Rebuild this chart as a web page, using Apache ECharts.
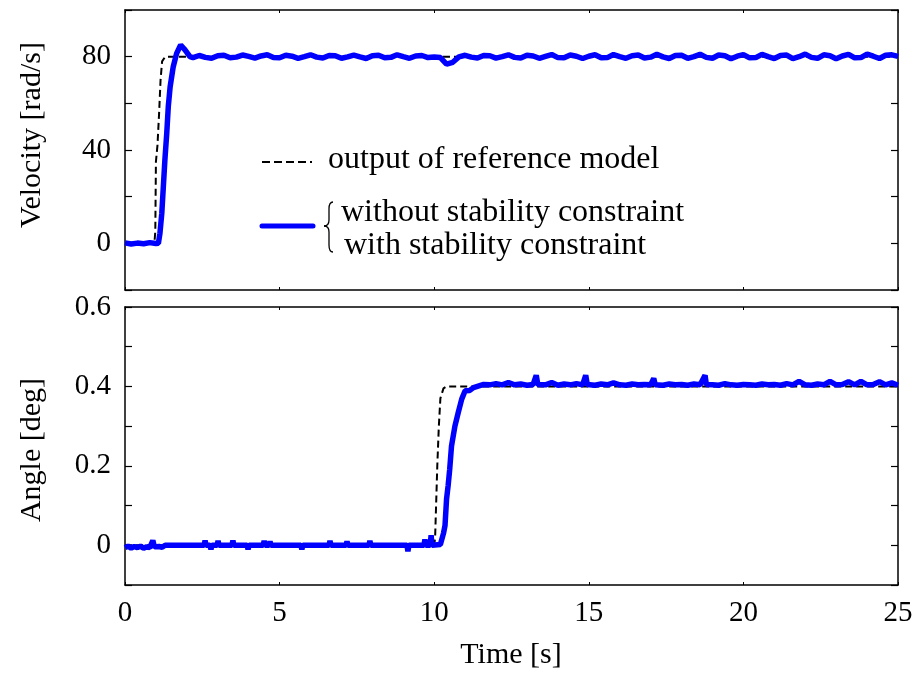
<!DOCTYPE html>
<html>
<head>
<meta charset="utf-8">
<script src="https://cdn.jsdelivr.net/npm/echarts@6/dist/echarts.min.js"></script>
<style>
html,body{margin:0;padding:0;background:#fff;}
#c{width:916px;height:675px;}
</style>
</head>
<body>
<div id="c"></div>
<script>
// ---- Top panel: velocity [rad/s] ----
const refVelTime = [0, 0.95, 0.98, 1.0, 1.05, 1.1, 1.15, 1.2, 1.3, 25];
const refVelValue = [0, 0, 5, 35, 42, 55, 70, 78, 80, 80];

const velTime = [0, 0.2, 0.4, 0.6, 0.8, 1.0, 1.08, 1.13, 1.19, 1.24, 1.29, 1.35, 1.40, 1.46, 1.56, 1.67, 1.80, 1.94, 2.1,
  2.2,2.4,2.6,2.8,3.0,3.2,3.4,3.6,3.8,4.0,
  4.2,4.4,4.6,4.8,5.0,5.2,5.4,5.6,5.8,6.0,
  6.2,6.4,6.6,6.8,7.0,7.2,7.4,7.6,7.8,8.0,
  8.2,8.4,8.6,8.8,9.0,9.2,9.4,9.6,9.8,10.0,
  10.2,10.4,10.6,10.8,11.0,11.2,11.4,11.6,11.8,12.0,
  12.2,12.4,12.6,12.8,13.0,13.2,13.4,13.6,13.8,14.0,
  14.2,14.4,14.6,14.8,15.0,15.2,15.4,15.6,15.8,16.0,
  16.2,16.4,16.6,16.8,17.0,17.2,17.4,17.6,17.8,18.0,
  18.2,18.4,18.6,18.8,19.0,19.2,19.4,19.6,19.8,20.0,
  20.2,20.4,20.6,20.8,21.0,21.2,21.4,21.6,21.8,22.0,
  22.2,22.4,22.6,22.8,23.0,23.2,23.4,23.6,23.8,24.0,
  24.2,24.4,24.6,24.8,25.0];
const velValue = [0.2, -0.3, 0.1, -0.2, 0.3, -0.1, 0, 4.3, 12.9, 24.3, 35.7, 47.1, 58.6, 67.1, 75.7, 81.4, 85, 82.9, 80,
  79.6, 80.5, 79.7, 79.3, 80.4, 80.6, 79.5, 79.8, 80.7, 80.1,
  79.4, 80.3, 80.8, 79.6, 79.5, 80.6, 80.2, 79.3, 80.0, 80.8,
  79.8, 79.4, 80.5, 80.4, 79.3, 79.9, 80.7, 79.9, 79.2, 80.4,
  80.6, 79.5, 79.7, 80.8, 80.0, 79.3, 80.3, 80.5, 79.6, 79.9,
  79.6, 76.8, 77.6, 79.9, 80.6, 79.8, 79.4, 80.5, 80.4, 79.4,
  80.0, 80.8, 79.7, 79.4, 80.6, 80.3, 79.3, 80.1, 80.9, 79.6,
  79.5, 80.7, 80.2, 79.2, 80.2, 80.8, 79.5, 79.6, 80.9, 80.0,
  79.3, 80.4, 80.7, 79.4, 79.8, 81.0, 79.9, 79.2, 80.5, 80.6,
  79.3, 80.0, 81.0, 79.7, 79.3, 80.7, 80.4, 79.1, 80.2, 80.9,
  79.5, 79.6, 81.0, 80.0, 79.2, 80.5, 80.7, 79.2, 80.0, 81.1,
  79.7, 79.3, 80.8, 80.4, 79.1, 80.3, 81.0, 79.5, 79.6, 81.1,
  80.2, 79.2, 80.6, 80.8, 80.1];

// ---- Bottom panel: angle [deg] ----
const refAngTime = [0, 10.0, 10.03, 10.1, 10.15, 10.2, 10.3, 10.4, 25];
const refAngValue = [0, 0, 0.02, 0.2, 0.3, 0.37, 0.395, 0.4, 0.4];

const angTime = [0, 0.1, 0.2, 0.3, 0.4, 0.5, 0.6, 0.7, 0.8, 0.85, 0.9, 0.95, 1.0, 1.1, 1.2, 1.3,
  2.56, 2.59, 2.62, 2.75, 2.78, 2.81, 2.98, 3.01, 3.04, 3.46, 3.49, 3.52, 3.95, 3.98, 4.01,
  4.47, 4.50, 4.53, 4.66, 4.69, 4.72, 5.69, 5.72, 5.75, 6.60, 6.63, 6.66, 7.15, 7.18, 7.21,
  7.89, 7.92, 7.95, 9.12, 9.15, 9.18, 9.67, 9.70, 9.73, 9.87, 9.90, 9.93,
  10.2, 10.3, 10.35, 10.4, 10.45, 10.5, 10.56, 10.67, 10.78, 10.89, 11.0, 11.15, 11.27, 11.6,
  11.8, 12.0, 12.2, 12.4, 12.6, 12.8, 13.0, 13.2, 13.3, 13.35, 13.6, 13.8, 14.0, 14.2, 14.4,
  14.6, 14.8, 14.9, 14.95, 15.2, 15.4, 15.6, 15.8, 16.0, 16.2, 16.4, 16.6, 16.8, 17.0, 17.1,
  17.15, 17.4, 17.6, 17.8, 18.0, 18.2, 18.4, 18.6, 18.76, 18.8, 19.0, 19.2, 19.4, 19.6, 19.8,
  20.0, 20.2, 20.4, 20.6, 20.8, 21.0, 21.2, 21.4, 21.6, 21.8, 22.0, 22.2, 22.4, 22.6, 22.8,
  23.0, 23.2, 23.4, 23.6, 23.8, 24.0, 24.2, 24.4, 24.6, 24.8, 25.0];
const angValue = [-0.006, -0.002, -0.007, -0.003, -0.006, -0.002, -0.007, -0.004, -0.006, -0.002, 0.012, -0.004, -0.006, -0.003, -0.005, 0,
  0, 0.012, 0, 0, -0.01, 0, 0, 0.011, 0, 0, 0.012, 0, 0, -0.01, 0,
  0, 0.011, 0, 0, 0.01, 0, 0, -0.01, 0, 0, 0.011, 0, 0, 0.01, 0,
  0, 0.011, 0, 0, -0.015, 0, 0, 0.015, 0, 0, 0.025, 0,
  0.002, 0.03, 0.05, 0.117, 0.15, 0.19, 0.25, 0.30, 0.335, 0.368, 0.389, 0.39, 0.397, 0.405,
  0.404, 0.407, 0.404, 0.41, 0.404, 0.406, 0.403, 0.405, 0.428, 0.405, 0.404, 0.41, 0.403, 0.406, 0.404,
  0.407, 0.404, 0.428, 0.405, 0.403, 0.406, 0.404, 0.409, 0.404, 0.403, 0.406, 0.404, 0.405, 0.404, 0.42,
  0.404, 0.403, 0.406, 0.404, 0.405, 0.403, 0.406, 0.404, 0.428, 0.405, 0.404, 0.403, 0.407, 0.404, 0.403,
  0.405, 0.404, 0.403, 0.406, 0.404, 0.405, 0.403, 0.407, 0.404, 0.413, 0.404, 0.403, 0.406, 0.404, 0.413,
  0.404, 0.405, 0.412, 0.404, 0.413, 0.404, 0.405, 0.412, 0.404, 0.409, 0.403];

// ---- Text ----
const velTitle = 'Velocity [rad/s]';
const angTitle = 'Angle [deg]';
const timeTitle = 'Time [s]';
const legendRef = 'output of reference model';
const legendWithout = 'without stability constraint';
const legendWith = 'with stability constraint';

const pairs = (t, v) => t.map((x, i) => [x, v[i]]);

const FONT = 'Liberation Serif';
const BLUE = '#0000ff';
const lineAxis = { show: true, onZero: false, lineStyle: { color: '#000', width: 1.5 } };

function xAx(grid, pos, labels) {
  return {
    type: 'value', gridIndex: grid, position: pos, min: 0, max: 25, interval: 5,
    axisLine: lineAxis, splitLine: { show: false },
    axisTick: { show: true, inside: true, length: 3, lineStyle: { color: '#000', width: 1 } },
    axisLabel: { show: labels, color: '#000', fontFamily: FONT, fontSize: 29, margin: 14 }
  };
}
function yAx(grid, pos, min, max, interval, labels, fmt) {
  return {
    type: 'value', gridIndex: grid, position: pos, min: min, max: max, interval: interval,
    axisLine: lineAxis, splitLine: { show: false },
    axisTick: { show: true, inside: true, length: 7, lineStyle: { color: '#000', width: 1.2 } },
    axisLabel: { show: labels, color: '#000', fontFamily: FONT, fontSize: 29, margin: 14,
      padding: [5, 0, 0, 0], formatter: fmt }
  };
}
const velFmt = v => (Math.round(v) % 40 === 0 ? String(Math.round(v)) : '');
const angFmt = v => {
  const k = Math.round(v * 10);
  if (k % 2 !== 0) return '';
  return k === 0 ? '0' : (k / 10).toFixed(1);
};

const txt = (text, x, y, size, rot, align) => ({
  type: 'text', x: x, y: y, rotation: rot || 0,
  style: { text: text, fontFamily: FONT, fontSize: size, fill: '#000', align: align || 'center', verticalAlign: 'middle' }
});
const stroke = { stroke: '#000', fill: null, lineWidth: 1.3 };

const option = {
  animation: false,
  backgroundColor: '#fff',
  textStyle: { fontFamily: FONT },
  grid: [
    { left: 125, top: 10, width: 773, height: 280 },
    { left: 125, top: 307, width: 773, height: 278 }
  ],
  xAxis: [xAx(0, 'bottom', false), xAx(0, 'top', false), xAx(1, 'bottom', true), xAx(1, 'top', false)],
  yAxis: [
    yAx(0, 'left', -20, 100, 20, true, velFmt), yAx(0, 'right', -20, 100, 20, false, velFmt),
    yAx(1, 'left', -0.1, 0.6, 0.1, true, angFmt), yAx(1, 'right', -0.1, 0.6, 0.1, false, angFmt)
  ],
  series: [
    { type: 'line', xAxisIndex: 0, yAxisIndex: 0, data: pairs(refVelTime, refVelValue), showSymbol: false,
      lineStyle: { color: '#000', width: 2, type: [7, 4] }, z: 2 },
    { type: 'line', xAxisIndex: 0, yAxisIndex: 0, data: pairs(velTime, velValue), showSymbol: false,
      lineStyle: { color: BLUE, width: 5.5 }, z: 3 },
    { type: 'line', xAxisIndex: 2, yAxisIndex: 2, data: pairs(refAngTime, refAngValue), showSymbol: false,
      lineStyle: { color: '#000', width: 2, type: [7, 4] }, z: 2 },
    { type: 'line', xAxisIndex: 2, yAxisIndex: 2, data: pairs(angTime, angValue), showSymbol: false,
      lineStyle: { color: BLUE, width: 5.5 }, z: 3 }
  ],
  graphic: [
    txt(velTitle, 32, 135, 30, Math.PI / 2),
    txt(angTitle, 32, 450, 30, Math.PI / 2),
    txt(timeTitle, 511, 655, 30, 0),
    { type: 'line', shape: { x1: 262, y1: 162, x2: 312, y2: 162 },
      style: { stroke: '#000', lineWidth: 2, lineDash: [8, 4] } },
    txt(legendRef, 328, 160, 32, 0, 'left'),
    { type: 'line', shape: { x1: 262, y1: 226, x2: 313, y2: 226 },
      style: { stroke: BLUE, lineWidth: 5, lineCap: 'round' } },
    { type: 'bezierCurve', shape: { x1: 333, y1: 202, cpx1: 330, cpy1: 202, cpx2: 329, cpy2: 204, x2: 329, y2: 209 }, style: stroke },
    { type: 'line', shape: { x1: 329, y1: 209, x2: 329, y2: 220 }, style: stroke },
    { type: 'bezierCurve', shape: { x1: 329, y1: 220, cpx1: 329, cpy1: 224, cpx2: 327, cpy2: 226, x2: 324, y2: 226 }, style: stroke },
    { type: 'bezierCurve', shape: { x1: 324, y1: 226, cpx1: 327, cpy1: 226, cpx2: 329, cpy2: 228, x2: 329, y2: 232 }, style: stroke },
    { type: 'line', shape: { x1: 329, y1: 232, x2: 329, y2: 245 }, style: stroke },
    { type: 'bezierCurve', shape: { x1: 329, y1: 245, cpx1: 329, cpy1: 250, cpx2: 330, cpy2: 252, x2: 333, y2: 252 }, style: stroke },
    txt(legendWithout, 341, 213, 32, 0, 'left'),
    txt(legendWith, 344, 246, 32, 0, 'left')
  ]
};

const chart = echarts.init(document.getElementById('c'), null, { renderer: 'canvas' });
chart.setOption(option);
</script>
</body>
</html>
